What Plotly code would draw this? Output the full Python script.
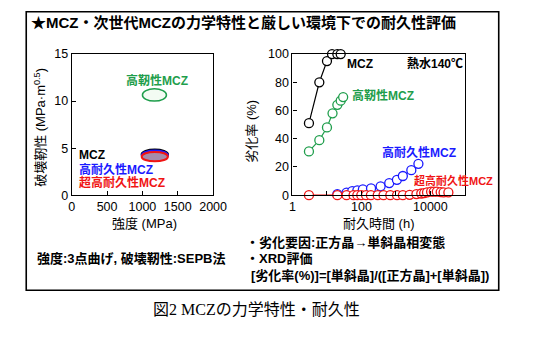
import plotly.graph_objects as go

W, H = 535, 352

# ---------------- data ----------------
# Left: strength / fracture toughness ranges (ellipses)
tough_groups = ["高靭性MCZ", "MCZ", "高耐久性MCZ", "超高耐久性MCZ"]
strength_lo = [1000, 990, 990, 990]
strength_hi = [1340, 1360, 1360, 1360]
toughness_lo = [10.0, 3.85, 3.75, 3.6]
toughness_hi = [11.3, 4.85, 4.75, 4.6]

# Right: degradation rate vs. durability time (hot water 140 C)
mcz_t = [3, 6, 10, 14, 20, 25]
mcz_v = [51, 80, 95, 100, 100, 100]
tough_t = [3, 6, 10, 14.5, 20, 25, 29.5]
tough_v = [31, 39, 48, 58, 64, 67, 69.5]
hd_t = [20, 37, 54, 76, 110, 190, 360, 640, 1070, 1590, 2800, 4500]
hd_v = [0.7, 1.8, 2.9, 3.4, 4.1, 4.8, 6.3, 8.6, 10.9, 13.6, 17.7, 22.2]
uhd_t = [3, 20, 37, 59, 76, 99, 136, 188, 297, 437, 687, 1080, 1590, 2500,
         3940, 5440, 6600, 8000, 10500, 12600, 15400, 19900, 24200, 33300]
uhd_v = [0, 0, 0, 0, 0, 0, 0, 0, 0, 0, 0, 0, 0, 0.3,
         0.8, 1.2, 1.5, 2.0, 2.5, 2.5, 2.5, 2.2, 2.0, 2.0]

x_ticks_left = [0, 500, 1000, 1500, 2000]
y_ticks_left = [0, 5, 10, 15]
x_tickvals_right = [1, 100, 10000]
x_minor_right = [10, 1000, 100000]
y_ticks_right = [0, 20, 40, 60, 80, 100]

BLACK = "#000000"
GREEN = "#1f9e4c"
BLUE = "#1a1aff"
RED = "#f01414"
MAUVE = "#a58bab"

FONT = "Liberation Sans, Arial, Noto Sans CJK JP, sans-serif"
SERIF = "Liberation Serif, DejaVu Serif, Noto Sans CJK JP, serif"


def px(x, y):
    return x / W, 1 - y / H


fig = go.Figure()

# invisible trace so the left axes are drawn
fig.add_trace(go.Scatter(x=[1000], y=[5], xaxis="x", yaxis="y",
                         mode="markers", marker=dict(opacity=0),
                         hoverinfo="skip", showlegend=False))

series = [
    (mcz_t, mcz_v, BLACK),
    (tough_t, tough_v, GREEN),
    (hd_t, hd_v, BLUE),
    (uhd_t, uhd_v, RED),
]
for t, v, c in series:
    fig.add_trace(go.Scatter(
        x=t, y=v, xaxis="x2", yaxis="y2", mode="lines+markers",
        line=dict(color=c, width=1.2),
        marker=dict(symbol="circle", size=9, color="white",
                    line=dict(color=c, width=1.3)),
        cliponaxis=False, showlegend=False))

shapes = []
# ellipses: green, then black, blue, red (red on top with fill)
ell_styles = [
    ("#f3fbf3", GREEN, 1.5),
    (MAUVE, BLACK, 2.2),
    (MAUVE, BLUE, 2.0),
    (MAUVE, RED, 2.0),
]
for i, (fill, lc, lw) in enumerate(ell_styles):
    shapes.append(dict(type="circle", xref="x", yref="y",
                       x0=strength_lo[i], x1=strength_hi[i],
                       y0=toughness_lo[i], y1=toughness_hi[i],
                       fillcolor=fill, line=dict(color=lc, width=lw),
                       layer="above"))

# outer frame
x0, y1 = px(24, 5)
x1, y0 = px(512, 295)
shapes.append(dict(type="rect", xref="paper", yref="paper",
                   x0=x0, x1=x1, y0=y0, y1=y1,
                   line=dict(color=BLACK, width=1.6)))

ann = []


def add_text(text, x, y, size, color=BLACK, xanchor="left", angle=0,
             font=FONT, yanchor="middle"):
    ax, ay = px(x, y)
    ann.append(dict(text=text, x=ax, y=ay, xref="paper", yref="paper",
                    xanchor=xanchor, yanchor=yanchor, showarrow=False,
                    textangle=angle,
                    font=dict(family=font, size=size, color=color)))


add_text("<b>★MCZ・次世代MCZの力学特性と厳しい環境下での耐久性評価</b>", 27, 16, 15)

# left plot labels
add_text("<b>高靭性MCZ</b>", 159, 77, 12, GREEN, xanchor="center")
add_text("<b>MCZ</b>", 76, 154, 12, BLACK)
add_text("<b>高耐久性MCZ</b>", 76, 169, 12, BLUE)
add_text("<b>超高耐久性MCZ</b>", 76, 183, 12, RED)
add_text("強度 (MPa)", 146, 225, 13, xanchor="center")
add_text("破壊靭性 (MPa·m<sup>0.5</sup>)", 38, 125, 13, xanchor="center",
         angle=-90)

# right plot labels
add_text("<b>MCZ</b>", 353, 59, 12, BLACK)
add_text("<b>熱水140℃</b>", 415, 59, 12, BLACK)
add_text("<b>高靭性MCZ</b>", 358, 92, 12, GREEN)
add_text("<b>高耐久性MCZ</b>", 389, 152, 12, BLUE)
add_text("<b>超高耐久性MCZ</b>", 422, 181, 11, RED)
add_text("耐久時間 (h)", 388, 225, 13, xanchor="center")
add_text("劣化率 (%)", 257, 129, 13, xanchor="center", angle=-90)

# notes
add_text("<b>強度:3点曲げ, 破壊靭性:SEPB法</b>", 33, 262, 13)
add_text("<b>・劣化要因:正方晶→単斜晶相変態</b>", 249, 245, 13)
add_text("<b>・XRD評価</b>", 249, 262, 13)
add_text("<b>[劣化率(%)]=[単斜晶]/([正方晶]+[単斜晶])</b>", 254, 280, 13)

# caption
add_text("図2 MCZの力学特性・耐久性", 262, 315, 16, xanchor="center", font=SERIF)

axis_common = dict(showline=True, linecolor=BLACK, linewidth=1.2, mirror=True,
                   ticks="inside", ticklen=4, tickcolor=BLACK, showgrid=False,
                   zeroline=False, tickfont=dict(family=FONT, size=12.5,
                                                 color=BLACK))

lx0, _ = px(71, 0)
lx1, _ = px(217, 0)
rx0, _ = px(299, 0)
rx1, _ = px(477, 0)
_, yb = px(0, 196)
_, yt = px(0, 49)

fig.update_layout(
    width=W, height=H, margin=dict(l=0, r=0, t=0, b=0),
    paper_bgcolor="white", plot_bgcolor="white",
    xaxis=dict(domain=[lx0, lx1], range=[0, 2000], tickvals=x_ticks_left,
               anchor="y", **axis_common),
    yaxis=dict(domain=[yb, yt], range=[0, 15], tickvals=y_ticks_left,
               anchor="x", **axis_common),
    xaxis2=dict(domain=[rx0, rx1], type="log", range=[0, 5],
                tickvals=x_tickvals_right,
                ticktext=[str(v) for v in x_tickvals_right],
                minor=dict(tickvals=x_minor_right, ticks="inside", ticklen=4,
                           tickcolor=BLACK, showgrid=False),
                anchor="y2", **axis_common),
    yaxis2=dict(domain=[yb, yt], range=[0, 100], tickvals=y_ticks_right,
                anchor="x2", **axis_common),
    shapes=shapes, annotations=ann, showlegend=False,
)

fig.write_html("out.html")
